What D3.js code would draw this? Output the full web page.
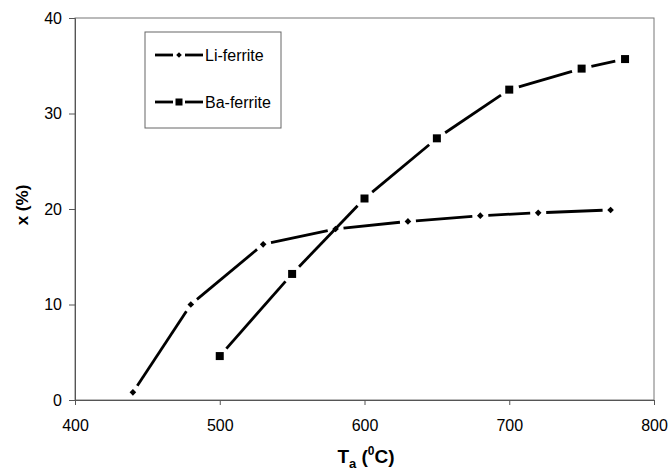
<!DOCTYPE html>
<html><head><meta charset="utf-8">
<script src="https://cdn.jsdelivr.net/npm/d3@7"></script>
<style>body{margin:0;background:#fff}svg{display:block}text{font-family:"Liberation Sans",Arial,sans-serif}</style>
</head><body>
<svg id="c" width="670" height="476"></svg>
<script>
const xTicks = [400, 500, 600, 700, 800];
const yTicks = [0, 10, 20, 30, 40];
const liT = [440, 480, 530, 580, 630, 680, 720, 770];
const liX = [0.8, 10.0, 16.3, 17.9, 18.7, 19.3, 19.6, 19.9];
const baT = [500, 550, 600, 650, 700, 750, 780];
const baX = [4.6, 13.2, 21.1, 27.4, 32.5, 34.7, 35.7];
const seriesNames = ["Li-ferrite", "Ba-ferrite"];

const svg = d3.select("#c");
const L = 75, R = 654, T = 18, B = 400;
const x = d3.scaleLinear().domain([400, 800]).range([L, R]);
const y = d3.scaleLinear().domain([0, 40]).range([B, T]);

// frame
svg.append("rect").attr("x", L).attr("y", T).attr("width", R - L).attr("height", B - T)
  .attr("fill", "none").attr("stroke", "#777").attr("stroke-width", 1);

const xa = svg.append("g").attr("transform", `translate(0,${B})`)
  .call(d3.axisBottom(x).tickValues(xTicks).tickSize(5).tickPadding(15).tickFormat(d3.format("d")));
const ya = svg.append("g").attr("transform", `translate(${L},0)`)
  .call(d3.axisLeft(y).tickValues(yTicks).tickSize(6).tickPadding(7).tickFormat(d3.format("d")));
[xa, ya].forEach(a => {
  a.select(".domain").attr("stroke", "#555");
  a.selectAll(".tick line").attr("stroke", "#555");
  a.selectAll("text").attr("font-size", 16).attr("fill", "#000").attr("font-family", "Liberation Sans, Arial, sans-serif");
});

function drawSeries(ts, vs, gap) {
  const pts = ts.map((t, i) => [x(t), y(vs[i])]);
  const g = svg.append("g");
  for (let i = 0; i < pts.length - 1; i++) {
    const [x1, y1] = pts[i], [x2, y2] = pts[i + 1];
    const dx = x2 - x1, dy = y2 - y1, len = Math.hypot(dx, dy);
    const ux = dx / len, uy = dy / len;
    g.append("line")
      .attr("x1", x1 + ux * gap).attr("y1", y1 + uy * gap)
      .attr("x2", x2 - ux * gap).attr("y2", y2 - uy * gap)
      .attr("stroke", "#000").attr("stroke-width", 2.8);
  }
  return { g, pts };
}

const li = drawSeries(liT, liX, 8);
li.g.selectAll("path.m").data(li.pts).join("path")
  .attr("d", d3.symbol(d3.symbolDiamond2, 28)())
  .attr("transform", d => `translate(${d[0]},${d[1]})`).attr("fill", "#000");

const ba = drawSeries(baT, baX, 10);
ba.g.selectAll("rect.m").data(ba.pts).join("rect")
  .attr("x", d => d[0] - 4).attr("y", d => d[1] - 4)
  .attr("width", 8).attr("height", 8).attr("fill", "#000");

// legend
const lg = svg.append("g");
lg.append("rect").attr("x", 145).attr("y", 32).attr("width", 136).attr("height", 96)
  .attr("fill", "#fff").attr("stroke", "#666").attr("stroke-width", 1);
const legY = [55, 102];
seriesNames.forEach((n, i) => {
  const yy = legY[i];
  lg.append("line").attr("x1", 155).attr("x2", 173).attr("y1", yy).attr("y2", yy).attr("stroke", "#000").attr("stroke-width", 2.8);
  lg.append("line").attr("x1", 185).attr("x2", 203).attr("y1", yy).attr("y2", yy).attr("stroke", "#000").attr("stroke-width", 2.8);
  if (i === 0) {
    lg.append("path").attr("d", d3.symbol(d3.symbolDiamond2, 20)()).attr("transform", `translate(179,${yy})`);
  } else {
    lg.append("rect").attr("x", 175.5).attr("y", yy - 3.5).attr("width", 7).attr("height", 7);
  }
  lg.append("text").attr("x", 205).attr("y", yy + 6).attr("font-size", 16).text(n);
});

// axis titles
const yt = svg.append("text").attr("transform", "translate(28,205) rotate(-90)")
  .attr("text-anchor", "middle").attr("font-size", 17).attr("font-weight", "bold");
yt.text("x (%)");

const xt = svg.append("text").attr("x", 366).attr("y", 463).attr("text-anchor", "middle")
  .attr("font-size", 19).attr("font-weight", "bold");
xt.append("tspan").text("T");
xt.append("tspan").attr("font-size", 13).attr("dy", 5).text("a");
xt.append("tspan").attr("dy", -5).text(" (");
xt.append("tspan").attr("font-size", 12).attr("dy", -8).text("0");
xt.append("tspan").attr("dy", 8).text("C)");
</script>
</body></html>
